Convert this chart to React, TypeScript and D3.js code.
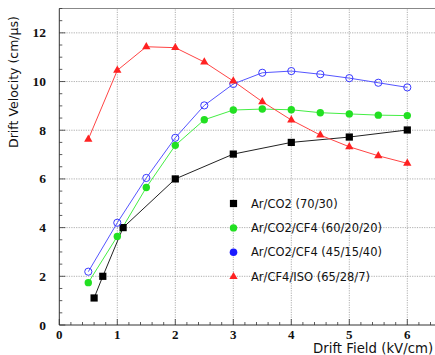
import React from "react";
import * as d3 from "d3";

const W = 435;
const H = 355;

const arCO2X = [0.6, 0.75, 1.1, 2, 3, 4, 5, 6];
const arCO2Y = [1.11, 2.0, 4.0, 6.0, 7.02, 7.5, 7.72, 8.01];

const fieldX = [0.5, 1, 1.5, 2, 2.5, 3, 3.5, 4, 4.5, 5, 5.5, 6];
const arCO2CF4_60Y = [1.74, 3.64, 5.65, 7.38, 8.43, 8.83, 8.87, 8.84, 8.72, 8.67, 8.62, 8.6];
const arCO2CF4_45Y = [2.19, 4.2, 6.04, 7.69, 9.02, 9.9, 10.36, 10.43, 10.3, 10.14, 9.95, 9.76];
const arCF4ISOY = [7.63, 10.46, 11.43, 11.39, 10.8, 10.02, 9.17, 8.42, 7.8, 7.32, 6.95, 6.64];

const xTicks = [0, 1, 2, 3, 4, 5, 6];
const yTicks = [0, 2, 4, 6, 8, 10, 12];
const legendLabels = [
  "Ar/CO2 (70/30)",
  "Ar/CO2/CF4 (60/20/20)",
  "Ar/CO2/CF4 (45/15/40)",
  "Ar/CF4/ISO (65/28/7)",
];

const x = d3.scaleLinear().domain([0, 6.5]).range([59.3, 436.3]);
const y = d3.scaleLinear().domain([0, 13]).range([325, 8.5]);

type Series = { xs: number[]; ys: number[]; color: string; marker: string; label: string };

const series: Series[] = [
  { xs: arCO2X, ys: arCO2Y, color: "#000000", marker: "square", label: legendLabels[0] },
  { xs: fieldX, ys: arCO2CF4_60Y, color: "#22e022", marker: "dot", label: legendLabels[1] },
  { xs: fieldX, ys: arCO2CF4_45Y, color: "#3a3aff", marker: "open", label: legendLabels[2] },
  { xs: fieldX, ys: arCF4ISOY, color: "#ff2222", marker: "tri", label: legendLabels[3] },
];

const lineColors = ["#222222", "#44ee44", "#5555ff", "#ff4444"];

function Marker({ cx, cy, type, color, legend }: { cx: number; cy: number; type: string; color: string; legend?: boolean }) {
  if (type === "square") return <rect x={cx - 3.6} y={cy - 3.6} width={7.2} height={7.2} fill={color} />;
  if (type === "dot") return <circle cx={cx} cy={cy} r={3.7} fill={color} />;
  if (type === "open")
    return legend ? (
      <circle cx={cx} cy={cy} r={3.8} fill="#1a1aff" />
    ) : (
      <circle cx={cx} cy={cy} r={3.6} fill="none" stroke={color} strokeWidth={1} />
    );
  const t = d3.symbol().type(d3.symbolTriangle).size(30)();
  return <path d={t || ""} transform={`translate(${cx},${cy})`} fill={color} />;
}

export default function App() {
  const xMinor = d3.range(0, 6.5 + 1e-9, 0.2);
  const yMinor = d3.range(0, 13 + 1e-9, 0.5);
  const line = d3.line<[number, number]>().x((d) => x(d[0])).y((d) => y(d[1]));
  const x0 = x(0);
  const y0 = y(0);
  const top = y(13);
  const right = W;
  return (
    <svg width={W} height={H} style={{ position: "absolute", left: 0, top: 0, background: "#fff" }}>
      {/* grid */}
      {xTicks.slice(1).map((t) => (
        <line key={"gx" + t} x1={x(t)} x2={x(t)} y1={y0} y2={top} stroke="#999" strokeWidth={0.8} strokeDasharray="1.2,1.2" />
      ))}
      {yTicks.slice(1).map((t) => (
        <line key={"gy" + t} x1={x0} x2={right} y1={y(t)} y2={y(t)} stroke="#999" strokeWidth={0.8} strokeDasharray="1.2,1.2" />
      ))}
      {/* frame */}
      <line x1={x0} x2={right} y1={top} y2={top} stroke="#888" strokeWidth={1.2} />
      <line x1={x0} x2={x0} y1={top} y2={y0} stroke="#333" strokeWidth={1} />
      <line x1={x0} x2={right} y1={y0} y2={y0} stroke="#333" strokeWidth={1} />
      {xMinor.map((t, i) => {
        const major = Math.abs(t - Math.round(t)) < 1e-6;
        return <line key={"xt" + i} x1={x(t)} x2={x(t)} y1={y0} y2={y0 - (major ? 6 : 3)} stroke="#333" strokeWidth={0.8} />;
      })}
      {yMinor.map((t, i) => {
        const major = Math.abs(t / 2 - Math.round(t / 2)) < 1e-6;
        return <line key={"yt" + i} x1={x0} x2={x0 + (major ? 6 : 3)} y1={y(t)} y2={y(t)} stroke="#333" strokeWidth={0.8} />;
      })}
      {/* tick labels */}
      {xTicks.map((t) => (
        <text key={"xl" + t} x={x(t)} y={339} textAnchor="middle" fontFamily="Liberation Serif" fontWeight="bold" fontSize={13} fill="#111">
          {t}
        </text>
      ))}
      {yTicks.map((t) => (
        <text key={"yl" + t} x={46} y={y(t) + 4.5} textAnchor="end" fontFamily="Liberation Serif" fontWeight="bold" fontSize={13.5} fill="#111">
          {t}
        </text>
      ))}
      {/* axis titles */}
      <text transform={`translate(18,82) rotate(-90)`} textAnchor="middle" fontFamily="DejaVu Sans" fontSize={12.5} fill="#111">
        Drift Velocity (cm/μs)
      </text>
      <text x={313} y={353} textAnchor="start" fontFamily="DejaVu Sans" fontSize={13.3} fill="#111">
        Drift Field (kV/cm)
      </text>
      {/* lines */}
      {series.map((s, si) => (
        <path
          key={"l" + si}
          d={line(s.xs.map((v, i) => [v, s.ys[i]] as [number, number])) || ""}
          fill="none"
          stroke={lineColors[si]}
          strokeWidth={1}
        />
      ))}
      {series.map((s, si) =>
        s.xs.map((v, i) => <Marker key={"m" + si + "-" + i} cx={x(v)} cy={y(s.ys[i])} type={s.marker} color={s.color} />)
      )}
      {/* legend */}
      {series.map((s, si) => {
        const ly = 203.5 + si * 24.4;
        return (
          <g key={"lg" + si}>
            <Marker cx={233.5} cy={ly} type={s.marker} color={s.color} legend />
            <text x={251} y={ly + 4} fontFamily="DejaVu Sans" fontSize={11.5} fill="#111">
              {s.label}
            </text>
          </g>
        );
      })}
    </svg>
  );
}
